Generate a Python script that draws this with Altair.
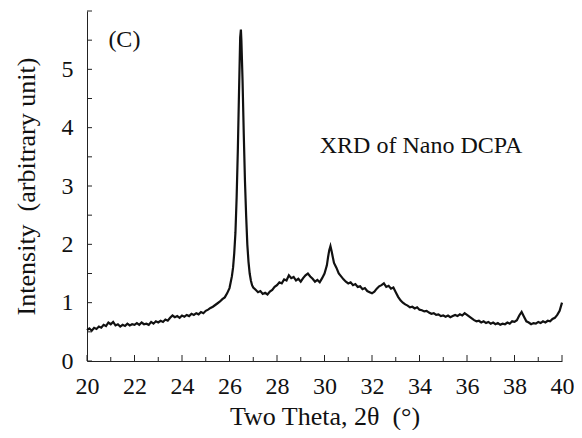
import altair as alt
import pandas as pd

two_theta = [
    20.0, 20.1, 20.2, 20.3, 20.4, 20.5, 20.6, 20.7, 20.8, 20.9,
    21.0, 21.1, 21.2, 21.3, 21.4, 21.5, 21.6, 21.7, 21.8, 21.9,
    22.0, 22.1, 22.2, 22.3, 22.4, 22.5, 22.6, 22.7, 22.8, 22.9,
    23.0, 23.1, 23.2, 23.3, 23.4, 23.5, 23.6, 23.7, 23.8, 23.9,
    24.0, 24.1, 24.2, 24.3, 24.4, 24.5, 24.6, 24.7, 24.8, 24.9,
    25.0, 25.1, 25.2, 25.3, 25.4, 25.5, 25.6, 25.7, 25.8, 25.9,
    26.0, 26.05, 26.1, 26.15, 26.2, 26.25, 26.3, 26.35, 26.4, 26.45,
    26.48, 26.5, 26.55, 26.6, 26.65, 26.7, 26.75, 26.8, 26.85, 26.9,
    26.95, 27.0, 27.1, 27.2, 27.3, 27.4, 27.5, 27.6, 27.7, 27.8,
    27.9, 28.0, 28.1, 28.2, 28.3, 28.4, 28.5, 28.6, 28.7, 28.8,
    28.9, 29.0, 29.1, 29.2, 29.3, 29.4, 29.5, 29.6, 29.7, 29.8,
    29.9, 30.0, 30.1, 30.15, 30.2, 30.25, 30.3, 30.35, 30.4, 30.5,
    30.6, 30.7, 30.8, 30.9, 31.0, 31.1, 31.2, 31.3, 31.4, 31.5,
    31.6, 31.7, 31.8, 31.9, 32.0, 32.1, 32.2, 32.3, 32.4, 32.5,
    32.6, 32.7, 32.8, 32.9, 33.0, 33.1, 33.2, 33.3, 33.4, 33.5,
    33.6, 33.7, 33.8, 33.9, 34.0, 34.1, 34.2, 34.3, 34.4, 34.5,
    34.6, 34.7, 34.8, 34.9, 35.0, 35.1, 35.2, 35.3, 35.4, 35.5,
    35.6, 35.7, 35.8, 35.9, 36.0, 36.1, 36.2, 36.3, 36.4, 36.5,
    36.6, 36.7, 36.8, 36.9, 37.0, 37.1, 37.2, 37.3, 37.4, 37.5,
    37.6, 37.7, 37.8, 37.9, 38.0, 38.1, 38.2, 38.3, 38.4, 38.5,
    38.6, 38.7, 38.8, 38.9, 39.0, 39.1, 39.2, 39.3, 39.4, 39.5,
    39.6, 39.7, 39.8, 39.9, 40.0,
]

intensity = [
    0.53, 0.56, 0.52, 0.57, 0.55, 0.59, 0.57, 0.62, 0.60, 0.66,
    0.63, 0.67, 0.61, 0.63, 0.59, 0.62, 0.60, 0.64, 0.61, 0.63,
    0.62, 0.65, 0.62, 0.66, 0.63, 0.64, 0.62, 0.67, 0.64, 0.68,
    0.66, 0.69, 0.67, 0.71, 0.69, 0.74, 0.78, 0.75, 0.77, 0.74,
    0.78, 0.76, 0.79, 0.77, 0.81, 0.79, 0.82, 0.80, 0.84, 0.82,
    0.86, 0.88, 0.91, 0.93, 0.96, 0.99, 1.02, 1.06, 1.09, 1.16,
    1.25, 1.35, 1.45, 1.60, 1.85, 2.20, 2.80, 3.60, 4.60, 5.55,
    5.68, 5.50, 4.80, 3.90, 3.10, 2.50, 2.00, 1.70, 1.50, 1.38,
    1.30, 1.26, 1.22, 1.18, 1.20, 1.15, 1.17, 1.14, 1.19, 1.22,
    1.27, 1.30, 1.35, 1.33, 1.40, 1.38, 1.47, 1.42, 1.44, 1.38,
    1.41, 1.36, 1.42, 1.47, 1.50, 1.45, 1.41, 1.36, 1.39, 1.35,
    1.42, 1.50, 1.64, 1.78, 1.90, 1.97, 1.88, 1.78, 1.68, 1.60,
    1.50, 1.45, 1.40, 1.36, 1.33, 1.35, 1.30, 1.32, 1.27, 1.28,
    1.23, 1.25, 1.20, 1.18, 1.16, 1.19, 1.24, 1.28, 1.30, 1.33,
    1.27, 1.29, 1.24, 1.26, 1.18, 1.10, 1.04, 1.00, 0.97, 0.95,
    0.92, 0.93, 0.90, 0.92, 0.88, 0.87, 0.85, 0.86, 0.83, 0.81,
    0.82, 0.79, 0.80, 0.77, 0.78, 0.76, 0.78, 0.75, 0.77, 0.79,
    0.77, 0.80, 0.78, 0.82, 0.79, 0.76, 0.73, 0.70, 0.68, 0.69,
    0.66, 0.68, 0.65, 0.67, 0.64, 0.66, 0.63, 0.65, 0.62, 0.64,
    0.63, 0.66, 0.64, 0.68, 0.67, 0.70, 0.78, 0.84, 0.76, 0.68,
    0.66, 0.63, 0.65, 0.64, 0.67, 0.65, 0.68, 0.66, 0.69, 0.68,
    0.72, 0.74, 0.79, 0.86, 1.00,
]

x_major_ticks = [20, 22, 24, 26, 28, 30, 32, 34, 36, 38, 40]
x_minor_ticks = [21, 23, 25, 27, 29, 31, 33, 35, 37, 39]
y_ticks = [0, 0.5, 1, 1.5, 2, 2.5, 3, 3.5, 4, 4.5, 5, 5.5, 6]
y_labels = [0, 1, 2, 3, 4, 5]

note_text = ["(C)", "XRD of Nano DCPA"]
note_x = [20.9, 29.8]
note_y = [5.5, 3.68]

FONT = "Liberation Serif"
W, H = 475, 350

df = pd.DataFrame({"theta": two_theta, "intensity": intensity})
xscale = alt.Scale(domain=[20, 40], nice=False, zero=False)
yscale = alt.Scale(domain=[0, 6], nice=False)

axis_style = dict(
    ticks=False, tickSize=0, grid=False, format="d", labelFlush=False,
    domainColor="#222222", domainWidth=1,
    labelFont=FONT, labelFontSize=24, labelColor="#111111",
    titleFont=FONT, titleFontSize=26, titleFontWeight="normal", titleColor="#111111",
)

line = alt.Chart(df).mark_line(color="#111111", strokeWidth=2.2).encode(
    x=alt.X("theta:Q", scale=xscale,
            axis=alt.Axis(title="Two Theta, 2θ \u00a0(°)", values=x_major_ticks,
                          labelPadding=13, titlePadding=5, **axis_style)),
    y=alt.Y("intensity:Q", scale=yscale,
            axis=alt.Axis(title="Intensity \u00a0(arbitrary unit)", values=y_labels,
                          labelPadding=14, titlePadding=22, **axis_style)),
)

xmaj = alt.Chart(pd.DataFrame({"t": x_major_ticks})).mark_rule(color="#222222", strokeWidth=1).encode(
    x=alt.X("t:Q", scale=xscale), y=alt.value(H), y2=alt.value(H - 6))
xmin = alt.Chart(pd.DataFrame({"t": x_minor_ticks})).mark_rule(color="#222222", strokeWidth=1).encode(
    x=alt.X("t:Q", scale=xscale), y=alt.value(H), y2=alt.value(H - 4))
yt = alt.Chart(pd.DataFrame({"t": y_ticks})).mark_rule(color="#222222", strokeWidth=1).encode(
    y=alt.Y("t:Q", scale=yscale), x=alt.value(0), x2=alt.value(5))

notes = alt.Chart(pd.DataFrame({"x": note_x, "y": note_y, "label": note_text})).mark_text(
    align="left", baseline="middle", font=FONT, fontSize=24, color="#111111").encode(
    x=alt.X("x:Q", scale=xscale), y=alt.Y("y:Q", scale=yscale), text="label:N")

chart = alt.layer(line, xmaj, xmin, yt, notes).properties(
    width=W, height=H,
    background="white",
    autosize=alt.AutoSizeParams(type="none"),
    padding={"left": 79, "top": 3, "right": 12, "bottom": 69},
).configure_view(stroke=None)

chart.save("out.html", embed_options={"renderer": "svg", "actions": False})
